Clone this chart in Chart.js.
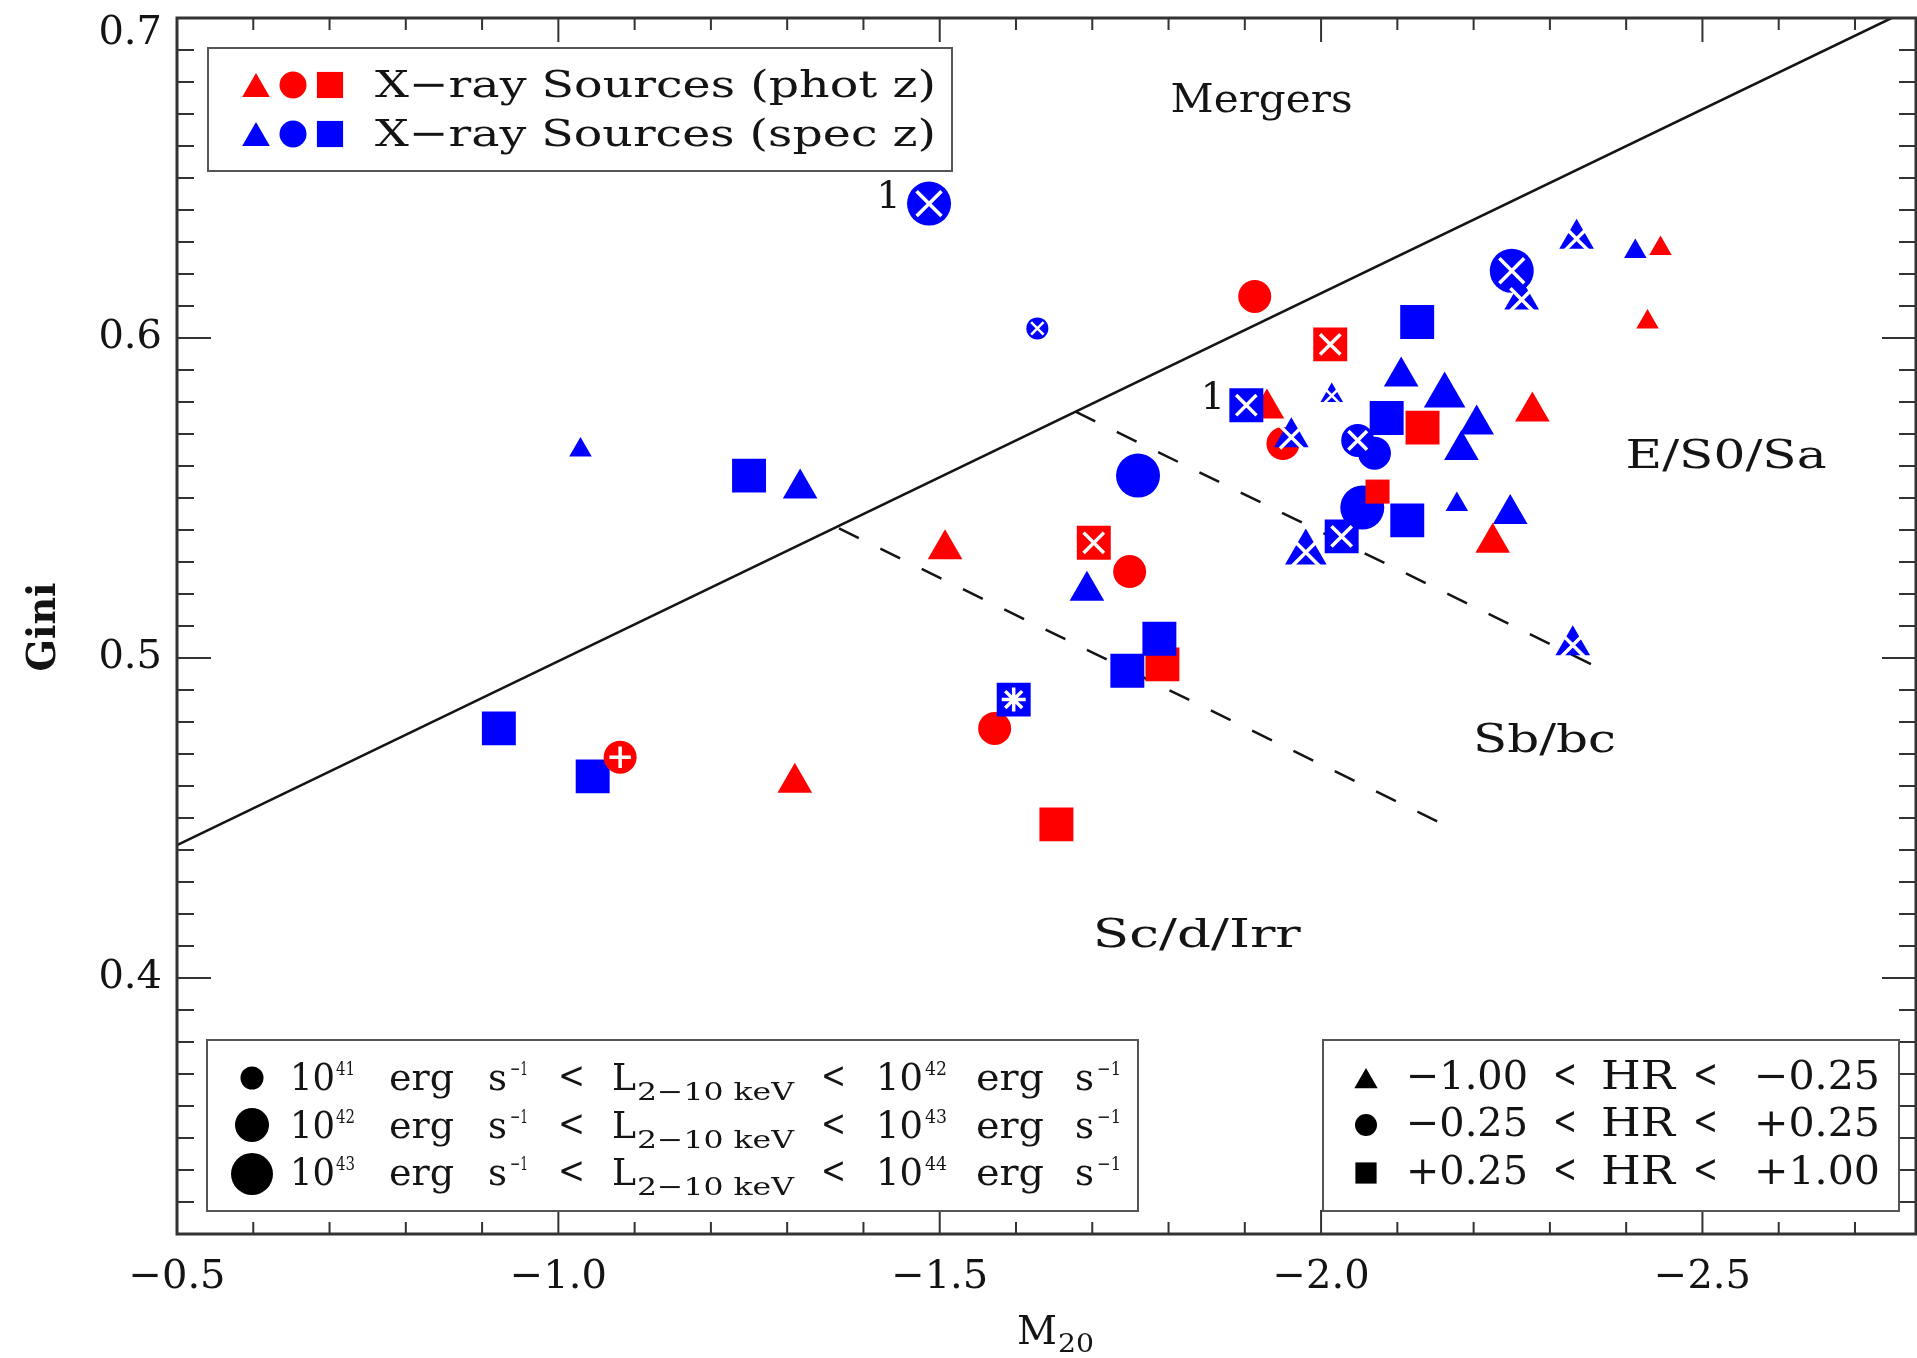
<!DOCTYPE html>
<html>
<head>
<meta charset="utf-8">
<script src="https://cdn.jsdelivr.net/npm/chart.js@4.4.1/dist/chart.umd.min.js"></script>
<style>
html, body { margin: 0; padding: 0; background: #fff; overflow: hidden; }
#wrap { width: 1917px; height: 1358px; }
</style>
</head>
<body>
<div id="wrap"><canvas id="c" width="1917" height="1358"></canvas></div>
<script>
// values, in drawing order
// (spec-z underneath, then phot-z, then the spec-z points that sit on top)
const m20 = [
  -1.486, -1.628, -1.029, -1.250, -1.317, -1.760, -1.693, -1.746, -0.922, -1.045,
  -2.126, -2.250, -2.335, -2.412, -2.014, -2.070, -2.086, -2.105, -2.162, -2.204,
  -2.184, -2.054, -2.113, -2.178, -2.248, -2.027, -1.980, -2.330,
  -1.913, -1.507, -1.702, -1.749, -1.792, -1.572, -1.081, -1.310, -1.653, -2.012,
  -2.445, -2.428, -2.277, -1.929, -1.950, -2.133, -2.074, -2.225,
  -1.902, -1.961, -1.788, -1.597, -2.048, -2.263
]
const gini = [
  0.642, 0.603, 0.565, 0.557, 0.553, 0.557, 0.521, 0.496, 0.478, 0.463,
  0.605, 0.621, 0.631, 0.627, 0.582, 0.564, 0.575, 0.588, 0.582, 0.573,
  0.565, 0.547, 0.543, 0.548, 0.545, 0.538, 0.533, 0.504,
  0.613, 0.534, 0.536, 0.527, 0.498, 0.478, 0.469, 0.461, 0.448, 0.598,
  0.628, 0.605, 0.577, 0.578, 0.567, 0.572, 0.552, 0.536,
  0.579, 0.569, 0.506, 0.487, 0.568, 0.612
]
// 's' = spec z, 'p' = phot z
const zType = [
  's','s','s','s','s','s','s','s','s','s',
  's','s','s','s','s','s','s','s','s','s',
  's','s','s','s','s','s','s','s',
  'p','p','p','p','p','p','p','p','p','p',
  'p','p','p','p','p','p','p','p',
  's','s','s','s','s','s'
]
// hardness ratio bin: 0 = -1.00..-0.25 (triangle), 1 = -0.25..+0.25 (circle), 2 = +0.25..+1.00 (square)
const hrBin = [
  1,1,0,2,0,1,0,2,2,2,
  2,1,0,0,0,1,2,0,0,0,
  0,1,2,0,0,2,0,0,
  1,0,2,1,2,1,1,0,2,2,
  0,0,0,0,1,2,2,0,
  2,0,2,2,1,0
]
// luminosity bin, lower bound exponent of L(2-10 keV)
const lumBin = [
  43,41,41,42,42,43,42,42,42,42,
  42,43,42,41,41,42,42,42,43,42,
  42,43,42,41,42,42,43,42,
  42,42,42,42,42,42,42,42,42,42,
  41,41,42,42,42,42,41,42,
  42,42,42,42,42,42
]
// white symbol drawn inside the marker
const flag = [
  'x','x','','','','','','','','',
  '','x','x','','x','','','','','',
  '','','','','','x','x','x',
  '','','x','','','','+','','','x',
  '','','','','','','','',
  'x','x','','*','x','x'
]

const xTicks = [-0.5, -1.0, -1.5, -2.0, -2.5]
const yTicks = [0.4, 0.5, 0.6, 0.7]

// classification boundaries
const mergerX = [-0.5, -2.748], mergerY = [0.4415, 0.7]
const earlyX = [-1.678, -2.370], earlyY = [0.577, 0.4962]
const lateX = [-1.368, -2.157], lateY = [0.5405, 0.4484]

const regionText = ['Mergers', 'E/S0/Sa', 'Sb/bc', 'Sc/d/Irr']
const regionX = [-1.922, -2.531, -2.293, -1.837]
const regionY = [0.675, 0.5636, 0.475, 0.4141]
const noteText = ['1', '1']
const noteX = [-1.433, -1.858]
const noteY = [0.645, 0.5822]

// ---------------- styling ----------------
const FONT = '"DejaVu Serif", serif'
const INK = '#141414'
const COLORS = { s: '#0000ff', p: '#ff0000' }
const SHAPES = ['triangle', 'circle', 'rect']
const SIZE = {
  triangle: { 41: 13, 42: 20, 43: 24 },
  circle: { 41: 11, 42: 16.5, 43: 22 },
  rect: { 41: 17, 42: 24, 43: 30 }
}
const regionW = [182, 201, 143, 208]

const pts = m20.map((x, i) => ({ x: x, y: gini[i] }))
const styles = hrBin.map(b => SHAPES[b])
const radii = styles.map((st, i) => SIZE[st][lumBin[i]])
const colors = zType.map(t => COLORS[t])

const marked = []
flag.forEach((f, i) => { if (f) marked.push(i) })
const overlayStyle = { x: 'crossRot', '+': 'cross', '*': 'star' }
const xScaleOf = { triangle: 0.8, circle: 0.8, rect: 0.6 }
const overlayRadius = marked.map(i => {
  if (flag[i] === '+') return radii[i] * 0.65
  if (flag[i] === '*') return radii[i] * 0.5
  return radii[i] * xScaleOf[styles[i]]
})

const line = (xs, ys, dash) => ({
  data: xs.map((x, i) => ({ x: x, y: ys[i] })),
  showLine: true,
  borderColor: INK,
  borderWidth: 2.5,
  borderDash: dash,
  pointRadius: 0,
  order: 3
})

function fitText(ctx, str, x0, x1, y, font) {
  ctx.save()
  ctx.font = font
  ctx.fillStyle = INK
  ctx.textAlign = 'left'
  ctx.textBaseline = 'alphabetic'
  const w = ctx.measureText(str).width
  ctx.translate(x0, y)
  ctx.scale((x1 - x0) / w, 1)
  ctx.fillText(str, 0, 0)
  ctx.restore()
}

function marker(ctx, style, x, y, r, color) {
  ctx.fillStyle = color
  ctx.beginPath()
  if (style === 'circle') {
    ctx.arc(x, y, r, 0, Math.PI * 2)
  } else if (style === 'rect') {
    const h = r * Math.SQRT1_2
    ctx.rect(x - h, y - h, 2 * h, 2 * h)
  } else {
    y += r * 0.25
    ctx.moveTo(x, y - r)
    ctx.lineTo(x + r * 0.866, y + r / 2)
    ctx.lineTo(x - r * 0.866, y + r / 2)
    ctx.closePath()
  }
  ctx.fill()
}

function box(ctx, x0, y0, x1, y1) {
  ctx.fillStyle = '#fff'
  ctx.fillRect(x0, y0, x1 - x0, y1 - y0)
  ctx.strokeStyle = '#555'
  ctx.lineWidth = 2
  ctx.strokeRect(x0, y0, x1 - x0, y1 - y0)
}

const deco = {
  id: 'deco',
  beforeDatasetsDraw(chart) {
    const ctx = chart.ctx, a = chart.chartArea
    const sx = chart.scales.x, sy = chart.scales.y
    ctx.save()
    ctx.strokeStyle = '#333'
    ctx.lineWidth = 2
    ctx.beginPath()
    for (let k = 5; k <= 27; k++) {
      const px = sx.getPixelForValue(-k / 10)
      const len = k % 5 === 0 ? 24 : 12
      ctx.moveTo(px, a.bottom); ctx.lineTo(px, a.bottom - len)
      ctx.moveTo(px, a.top); ctx.lineTo(px, a.top + len)
    }
    for (let k = 32; k <= 70; k++) {
      const py = sy.getPixelForValue(k / 100)
      const len = k % 10 === 0 ? 34 : 17
      ctx.moveTo(a.left, py); ctx.lineTo(a.left + len, py)
      ctx.moveTo(a.right, py); ctx.lineTo(a.right - len, py)
    }
    ctx.stroke()
    ctx.restore()
  },
  afterDatasetsDraw(chart) {
    const ctx = chart.ctx, a = chart.chartArea
    const sx = chart.scales.x, sy = chart.scales.y
    ctx.save()

    // region names
    regionText.forEach((t, i) => {
      const cx = sx.getPixelForValue(regionX[i]), cy = sy.getPixelForValue(regionY[i])
      fitText(ctx, t, cx - regionW[i] / 2, cx + regionW[i] / 2, cy + 14, '40px ' + FONT)
    })
    noteText.forEach((t, i) => {
      ctx.font = '38px ' + FONT
      ctx.fillStyle = INK
      ctx.textAlign = 'center'
      ctx.textBaseline = 'alphabetic'
      ctx.fillText(t, sx.getPixelForValue(noteX[i]), sy.getPixelForValue(noteY[i]) + 14)
    })

    // legend: redshift type
    box(ctx, 208, 48, 952, 171)
    ;[['p', 85, 'X\u2212ray Sources (phot z)'], ['s', 134, 'X\u2212ray Sources (spec z)']].forEach(row => {
      const c = COLORS[row[0]], y = row[1]
      marker(ctx, 'triangle', 256, y, 16, c)
      marker(ctx, 'circle', 293, y, 13.5, c)
      marker(ctx, 'rect', 330, y, 18.5, c)
      fitText(ctx, row[2], 375, 936, y + 12, '38px ' + FONT)
    })

    // legend: luminosity
    box(ctx, 207, 1040, 1138, 1211)
    const lumRows = [[1078, 1090, 11.5, '41', '42'], [1125, 1138, 17, '42', '43'], [1174, 1185, 21, '43', '44']]
    lumRows.forEach(r => {
      const my = r[0], b = r[1]
      marker(ctx, 'circle', 252, my, r[2], '#000')
      const big = '38px ' + FONT, sup = '19px ' + FONT, sub = '25px ' + FONT
      fitText(ctx, '10', 290, 335, b, big)
      fitText(ctx, r[3], 336, 355, b - 15, sup)
      fitText(ctx, 'erg', 389, 454, b, big)
      fitText(ctx, 's', 488, 507, b, big)
      fitText(ctx, '\u22121', 510, 528, b - 15, sup)
      fitText(ctx, '<', 558, 585, b - 2, big)
      fitText(ctx, 'L', 612, 636, b, big)
      fitText(ctx, '2\u221210 keV', 637, 794, b + 10, sub)
      fitText(ctx, '<', 821, 846, b - 2, big)
      fitText(ctx, '10', 876, 923, b, big)
      fitText(ctx, r[4], 925, 947, b - 15, sup)
      fitText(ctx, 'erg', 976, 1044, b, big)
      fitText(ctx, 's', 1075, 1094, b, big)
      fitText(ctx, '\u22121', 1097, 1121, b - 15, sup)
    })

    // legend: hardness ratio
    box(ctx, 1323, 1040, 1899, 1211)
    const hrRows = [['triangle', 13.5, 1078, '\u22121.00', '\u22120.25'],
                    ['circle', 11, 1125, '\u22120.25', '+0.25'],
                    ['rect', 15, 1173, '+0.25', '+1.00']]
    hrRows.forEach(r => {
      const y = r[2], b = y + 11, f = '40px ' + FONT
      marker(ctx, r[0], 1366, y, r[1], '#000')
      fitText(ctx, r[3], 1406, 1528, b, f)
      fitText(ctx, '<', 1553, 1577, b - 2, f)
      fitText(ctx, 'HR', 1601, 1675, b, f)
      fitText(ctx, '<', 1693, 1718, b - 2, f)
      fitText(ctx, r[4], 1754, 1880, b, f)
    })

    // frame
    ctx.strokeStyle = '#333'
    ctx.lineWidth = 3
    ctx.strokeRect(a.left, a.top, a.right - a.left, a.bottom - a.top)

    // axis titles
    ctx.save()
    ctx.translate(41, 627)
    ctx.rotate(-Math.PI / 2)
    fitText(ctx, 'Gini', -44.5, 44.5, 14, 'bold 40px ' + FONT)
    ctx.restore()
    fitText(ctx, 'M', 1017, 1057, 1344, '40px ' + FONT)
    fitText(ctx, '20', 1058, 1094, 1352, '26px ' + FONT)

    ctx.restore()
  }
}

const fmt = v => (v < 0 ? '\u2212' : '') + Math.abs(v).toFixed(1)

new Chart(document.getElementById('c'), {
  type: 'scatter',
  data: {
    datasets: [
      {
        data: pts,
        pointStyle: styles,
        pointRadius: radii,
        pointBackgroundColor: colors,
        pointBorderWidth: 0,
        order: 2
      },
      {
        data: marked.map(i => pts[i]),
        pointStyle: marked.map(i => overlayStyle[flag[i]]),
        pointRadius: overlayRadius,
        pointBorderColor: '#ffffff',
        pointBackgroundColor: 'rgba(0,0,0,0)',
        pointBorderWidth: marked.map(i => lumBin[i] === 41 ? 2.5 : 3.5),
        order: 1
      },
      line(mergerX, mergerY, []),
      line(earlyX, earlyY, [22, 24]),
      line(lateX, lateY, [22, 24])
    ]
  },
  options: {
    responsive: false,
    animation: false,
    events: [],
    layout: { autoPadding: false, padding: { top: 18, right: 1, left: 0, bottom: 0 } },
    plugins: { legend: { display: false }, tooltip: { enabled: false } },
    scales: {
      x: {
        type: 'linear',
        min: -2.78,
        max: -0.5,
        reverse: true,
        grid: { display: false, drawTicks: false },
        border: { display: false },
        afterBuildTicks: s => { s.ticks = xTicks.map(v => ({ value: v })) },
        afterFit: s => { s.height = 124; s.paddingLeft = 0; s.paddingRight = 0 },
        ticks: {
          font: { family: 'DejaVu Serif', size: 40 },
          color: INK,
          padding: 20,
          maxRotation: 0,
          autoSkip: false,
          callback: v => fmt(v)
        }
      },
      y: {
        type: 'linear',
        min: 0.32,
        max: 0.7,
        grid: { display: false, drawTicks: false },
        border: { display: false },
        afterBuildTicks: s => { s.ticks = yTicks.map(v => ({ value: v })) },
        afterFit: s => { s.width = 177; s.paddingTop = 0; s.paddingBottom = 0 },
        ticks: {
          font: { family: 'DejaVu Serif', size: 40, lineHeight: 0.8 },
          color: INK,
          padding: 15,
          autoSkip: false,
          // the top label sits just below the frame, as in the original
          callback: v => v >= 0.699 ? ['', v.toFixed(1)] : v.toFixed(1)
        }
      }
    }
  },
  plugins: [deco]
})
</script>
</body>
</html>
